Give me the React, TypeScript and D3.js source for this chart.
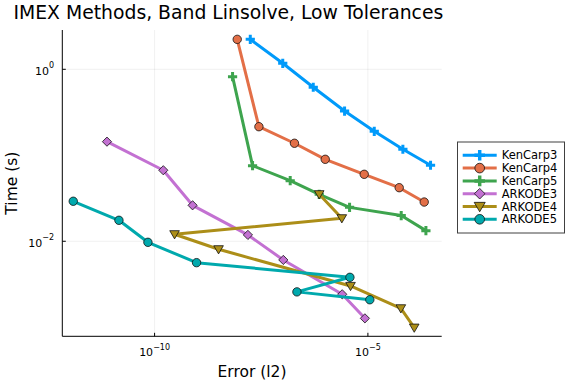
import * as d3 from "d3"

const W = 576
const H = 384

const methods = ["KenCarp3", "KenCarp4", "KenCarp5", "ARKODE3", "ARKODE4", "ARKODE5"]
const palette = ["#009afa", "#e36f47", "#3ea44e", "#c371d2", "#ac8e18", "#00a9ad"]
const shapes = ["cross", "circle", "cross", "diamond", "dtriangle", "circle"]

// error (l2) and time (s) per method
const kenCarp3Err = [1.75e-8, 1.01e-7, 5.24e-7, 2.84e-6, 1.41e-5, 6.61e-5, 2.94e-4]
const kenCarp3Time = [2.23, 1.175, 0.618, 0.327, 0.19, 0.1175, 0.0766]
const kenCarp4Err = [8.65e-9, 2.79e-8, 1.9e-7, 1.0e-6, 8.2e-6, 5.42e-5, 2.09e-4]
const kenCarp4Time = [2.23, 0.215, 0.138, 0.0898, 0.0601, 0.042, 0.0286]
const kenCarp5Err = [6.73e-9, 1.98e-8, 1.51e-7, 7.23e-7, 3.72e-6, 6.04e-5, 2.29e-4]
const kenCarp5Time = [0.821, 0.0757, 0.0507, 0.0352, 0.0248, 0.0199, 0.0133]
const arkode3Err = [7.66e-12, 1.6e-10, 7.78e-10, 1.54e-8, 1.04e-7, 2.5e-6, 8.51e-6]
const arkode3Time = [0.144, 0.067, 0.0262, 0.01186, 0.00607, 0.00242, 0.00127]
const arkode4Err = [7.23e-7, 2.45e-6, 2.94e-10, 3.16e-9, 3.92e-6, 5.93e-5, 1.22e-4]
const arkode4Time = [0.0352, 0.0185, 0.01206, 0.00807, 0.00302, 0.00166, 0.000989]
const arkode5Err = [1.24e-12, 1.46e-11, 6.98e-11, 9.64e-10, 3.79e-6, 2.17e-7, 1.11e-5]
const arkode5Time = [0.0292, 0.01754, 0.00973, 0.00564, 0.00381, 0.00258, 0.00209]

const errs = [kenCarp3Err, kenCarp4Err, kenCarp5Err, arkode3Err, arkode4Err, arkode5Err]
const times = [kenCarp3Time, kenCarp4Time, kenCarp5Time, arkode3Time, arkode4Time, arkode5Time]

const xTicks = [1e-10, 1e-5]
const xTickExp = ["\u221210", "\u22125"]
const yTicks = [1e-2, 1e0]
const yTickExp = ["\u22122", "0"]

const FONT = "DejaVu Sans"

function Marker({ shape, color, cx, cy, s = 1 }: { shape: string; color: string; cx: number; cy: number; s?: number }) {
  if (shape === "circle") {
    return <circle cx={cx} cy={cy} r={4.2 * s} fill={color} stroke="#111" strokeWidth={0.8} />
  }
  if (shape === "diamond") {
    const r = 4.6 * s
    return <path d={`M${cx},${cy - r}L${cx + r},${cy}L${cx},${cy + r}L${cx - r},${cy}Z`} fill={color} stroke="#111" strokeWidth={0.8} />
  }
  if (shape === "dtriangle") {
    const w = 4.8 * s
    return (
      <path
        d={`M${cx - w},${cy - 3.6 * s}L${cx + w},${cy - 3.6 * s}L${cx},${cy + 4.6 * s}Z`}
        fill={color}
        stroke="#111"
        strokeWidth={0.8}
      />
    )
  }
  // cross
  const a = 4.6 * s
  const t = 1.5 * s
  return (
    <path
      d={`M${cx - t},${cy - a}H${cx + t}V${cy - t}H${cx + a}V${cy + t}H${cx + t}V${cy + a}H${cx - t}V${cy + t}H${cx - a}V${cy - t}H${cx - t}Z`}
      fill={color}
    />
  )
}

export default function App() {
  const x = d3.scaleLog().domain([10 ** -12.163, 10 ** -3.27]).range([62.3, 441.7])
  const y = d3.scaleLog().domain([10 ** -3.105, 10 ** 0.457]).range([336.3, 30])
  const [x0, x1] = x.range()
  const [y0, y1] = y.range()

  const line = d3
    .line<[number, number]>()
    .x((d) => x(d[0]))
    .y((d) => y(d[1]))

  return (
    <svg
      width={W}
      height={H}
      style={{ position: "absolute", left: 0, top: 0, background: "#fff" }}
      fontFamily={FONT}
    >
      <rect width={W} height={H} fill="#fff" />

      {/* grid */}
      {xTicks.map((t) => (
        <line key={"gx" + t} x1={x(t)} x2={x(t)} y1={y1} y2={y0} stroke="#000" strokeOpacity={0.1} strokeWidth={0.6} />
      ))}
      {yTicks.map((t) => (
        <line key={"gy" + t} x1={x0} x2={x1} y1={y(t)} y2={y(t)} stroke="#000" strokeOpacity={0.1} strokeWidth={0.6} />
      ))}

      {/* series */}
      {methods.map((m, i) => {
        const pts = errs[i].map((e, j) => [e, times[i][j]] as [number, number])
        return (
          <g key={m}>
            <path d={line(pts) || ""} fill="none" stroke={palette[i]} strokeWidth={3} strokeLinejoin="round" />
            {pts.map((p, j) => (
              <Marker key={j} shape={shapes[i]} color={palette[i]} cx={x(p[0])} cy={y(p[1])} />
            ))}
          </g>
        )
      })}

      {/* axes */}
      <line x1={x0} x2={x1} y1={y0} y2={y0} stroke="#000" strokeWidth={1} />
      <line x1={x0} x2={x0} y1={y0} y2={y1} stroke="#000" strokeWidth={1} />
      {xTicks.map((t, i) => (
        <g key={"xt" + t}>
          <line x1={x(t)} x2={x(t)} y1={y0} y2={y0 - 3.5} stroke="#000" strokeWidth={1} />
          <text x={x(t)} y={356} textAnchor="middle" fontSize={11} fill="#000">
            10
            <tspan fontSize={8} dy={-6.5}>
              {xTickExp[i]}
            </tspan>
          </text>
        </g>
      ))}
      {yTicks.map((t, i) => (
        <g key={"yt" + t}>
          <line x1={x0} x2={x0 + 3.5} y1={y(t)} y2={y(t)} stroke="#000" strokeWidth={1} />
          <text x={54} y={y(t) + 5.5} textAnchor="end" fontSize={11} fill="#000">
            10
            <tspan fontSize={8} dy={-6.5}>
              {yTickExp[i]}
            </tspan>
          </text>
        </g>
      ))}

      {/* labels */}
      <text x={13.5} y={19} fontSize={18.8} fill="#000">
        IMEX Methods, Band Linsolve, Low Tolerances
      </text>
      <text x={(x0 + x1) / 2} y={377} textAnchor="middle" fontSize={15.5} fill="#000">
        Error (l2)
      </text>
      <text transform={`translate(17,${(y0 + y1) / 2}) rotate(-90)`} textAnchor="middle" fontSize={15.5} fill="#000">
        Time (s)
      </text>

      {/* legend */}
      <g>
        <rect x={457.5} y={142} width={107} height={91} fill="#fff" stroke="#404040" strokeWidth={1} />
        {methods.map((m, i) => {
          const ly = 155.3 + i * 12.8
          return (
            <g key={"lg" + m}>
              <line x1={462.7} x2={496.7} y1={ly} y2={ly} stroke={palette[i]} strokeWidth={3} />
              <Marker shape={shapes[i]} color={palette[i]} cx={479.7} cy={ly} s={1.15} />
              <text x={501.7} y={ly + 4} fontSize={11.5} fill="#000">
                {m}
              </text>
            </g>
          )
        })}
      </g>
    </svg>
  )
}
